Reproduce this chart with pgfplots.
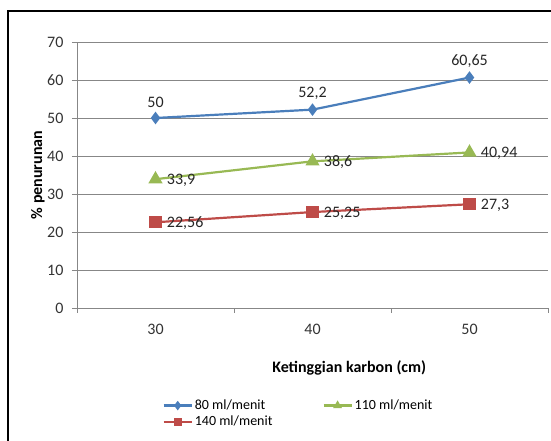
\documentclass[border=0pt]{standalone}
\usepackage{fontspec}
\setmainfont{Carlito}
\usepackage{pgfplots}
\pgfplotsset{compat=1.18}
\definecolor{sblue}{HTML}{4A7EBB}
\definecolor{sred}{HTML}{BE4B48}
\definecolor{sgreen}{HTML}{98B954}
\definecolor{gridc}{HTML}{878787}
\begin{document}
\begin{tikzpicture}[x=1pt,y=1pt]
\useasboundingbox (0,0) rectangle (551,441);
\draw[line width=1.8pt] (8,-20) -- (8,430) -- (580,430);
\begin{axis}[
  at={(77pt,133pt)}, anchor=south west,
  scale only axis, width=471pt, height=266pt,
  xmin=25, xmax=55, ymin=0, ymax=70,
  axis lines*=left,
  axis line style={gridc, line width=0.8pt},
  xtick={30,40,50},
  minor xtick={25,35,45,55},
  ytick={0,10,...,70},
  tick align=outside,
  major tick length=5pt, minor tick length=5pt,
  every tick/.style={gridc, line width=0.8pt},
  major x tick style={draw=none},
  ymajorgrids,
  grid style={gridc, line width=0.8pt},
  ticklabel style={font=\fontsize{16}{16}\selectfont, text=black!80},
  /pgf/number format/assume math mode=true,
  yticklabel style={xshift=-5pt},
  xticklabel style={yshift=-8pt},
  xlabel={\textbf{Ketinggian karbon (cm)}},
  ylabel={\textbf{\% penurunan}},
  label style={font=\fontsize{16}{16}\selectfont},
  xlabel style={at={(axis description cs:0.578,-0.225)}, anchor=center},
  ylabel style={at={(axis description cs:-0.083,0.5)}, anchor=center},
  legend columns=2,
  legend style={draw=none, fill=none, at={(axis description cs:0.175,-0.33)}, anchor=north west,
    font=\fontsize{14}{15}\selectfont, row sep=1pt,
    /tikz/every even column/.append style={column sep=48pt}},
  legend cell align=left,
  legend image code/.code={
    \draw[#1, mark=none] (0pt,0pt) -- (28pt,0pt);
    \draw[#1, only marks, mark size=3pt] plot coordinates {(14pt,0pt)};
  },
  nodes near coords,
  point meta=explicit symbolic,
  every node near coord/.append style={font=\fontsize{16}{16}\selectfont, text=black!85},
]
\addplot[sblue, line width=2.2pt, mark=diamond*, mark size=4.5pt, mark options={fill=sblue},
  every node near coord/.append style={anchor=south, yshift=6pt}]
  coordinates {(30,50) [50] (40,52.2) [52,2] (50,60.65) [60,65]};
\addlegendentry{80 ml/menit}
\addplot[sgreen, line width=2.2pt, mark=triangle*, mark size=6pt, mark options={fill=sgreen},
  every node near coord/.append style={anchor=west, xshift=7pt, yshift=-1pt}]
  coordinates {(30,33.9) [33,9] (40,38.6) [38,6] (50,40.94) [40,94]};
\addlegendentry{110 ml/menit}
\addplot[sred, line width=2.2pt, mark=square*, mark size=5pt, mark options={fill=sred},
  every node near coord/.append style={anchor=west, xshift=7pt, yshift=-1pt}]
  coordinates {(30,22.56) [22,56] (40,25.25) [25,25] (50,27.3) [27,3]};
\addlegendentry{140 ml/menit}
\end{axis}
\end{tikzpicture}
\end{document}
